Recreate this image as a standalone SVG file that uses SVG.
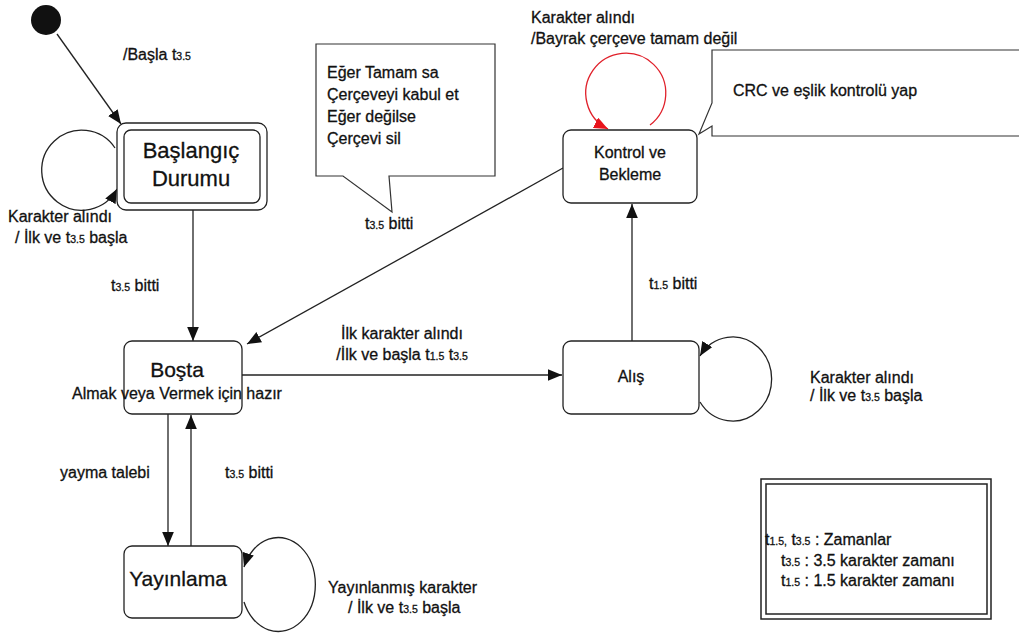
<svg xmlns="http://www.w3.org/2000/svg" width="1019" height="633" viewBox="0 0 1019 633">
  <style>
    text { font-family: "Liberation Sans", Arial, sans-serif; fill: #111; stroke: #111; stroke-width: 0.3; }
    .lbl { font-size: 16px; }
    .big { font-size: 22px; }
    .mid { font-size: 16px; }
    .sub { font-size: 10.5px; }
    .state { fill: #fff; stroke: #222; stroke-width: 1.3; }
    .edge { fill: none; stroke: #222; stroke-width: 1.3; }
    .red { fill: none; stroke: #e0202a; stroke-width: 1.3; }
    .note { fill: #fff; stroke: #333; stroke-width: 1.2; }
  </style>
  <defs>
    <marker id="arrow" viewBox="0 0 12 10" refX="12" refY="5" markerWidth="14" markerHeight="12" markerUnits="userSpaceOnUse" orient="auto">
      <path d="M0,0 L12,5 L0,10 z" fill="#111"/>
    </marker>
    <marker id="arrowRed" viewBox="0 0 12 10" refX="12" refY="5" markerWidth="14" markerHeight="12" markerUnits="userSpaceOnUse" orient="auto">
      <path d="M0,0 L12,5 L0,10 z" fill="#e8141c"/>
    </marker>
  </defs>

  <rect width="1019" height="633" fill="#fff"/>

  <!-- connectors -->
  <g id="connectors">
    <line class="edge" x1="57" y1="34" x2="121" y2="124" marker-end="url(#arrow)"/>
    <path class="edge" d="M115,148 A40,40 0 1 0 117,189" marker-end="url(#arrow)"/>
    <line class="edge" x1="193" y1="210" x2="193" y2="341" marker-end="url(#arrow)"/>
    <line class="edge" x1="563" y1="168" x2="247" y2="344" marker-end="url(#arrow)"/>
    <line class="edge" x1="242" y1="375" x2="562" y2="375" marker-end="url(#arrow)"/>
    <path class="edge" d="M700,402 A39,42 0 1 0 700,356" marker-end="url(#arrow)"/>
    <line class="edge" x1="632" y1="341" x2="632" y2="204" marker-end="url(#arrow)"/>
    <path class="red" d="M650,125 A40,40 0 1 0 608,129" marker-end="url(#arrowRed)"/>
    <line class="edge" x1="168" y1="414" x2="168" y2="546" marker-end="url(#arrow)"/>
    <line class="edge" x1="191" y1="546" x2="191" y2="415" marker-end="url(#arrow)"/>
    <path class="edge" d="M244,602 A37,47 0 1 0 244,567" marker-end="url(#arrow)"/>
  </g>

  <!-- initial pseudo-state -->
  <g id="initial">
    <circle cx="46" cy="20" r="15" fill="#111"/>
  </g>

  <g id="baslangic">
    <rect class="state" x="117" y="123" width="150" height="87" rx="9"/>
    <rect class="state" x="124" y="130" width="136" height="73" rx="7"/>
    <text class="big" x="191" y="158" text-anchor="middle">Başlangıç</text>
    <text class="big" x="191" y="186" text-anchor="middle">Durumu</text>
  </g>

  <g id="bosta">
    <rect class="state" x="124" y="341" width="118" height="73" rx="8"/>
    <text class="big" x="177" y="377" text-anchor="middle" style="font-size:21px">Boşta</text>
    <text class="mid" x="177" y="399" text-anchor="middle">Almak veya Vermek için hazır</text>
  </g>

  <g id="alis">
    <rect class="state" x="563" y="341" width="136" height="73" rx="8"/>
    <text class="mid" x="631" y="382" text-anchor="middle">Alış</text>
  </g>

  <g id="kontrol">
    <rect class="state" x="563" y="130" width="134" height="73" rx="8"/>
    <text class="mid" x="630" y="158" text-anchor="middle">Kontrol ve</text>
    <text class="mid" x="630" y="180" text-anchor="middle">Bekleme</text>
  </g>

  <g id="yayinlama">
    <rect class="state" x="124" y="546" width="118" height="72" rx="8"/>
    <text class="big" x="178" y="586" text-anchor="middle" style="font-size:21px">Yayınlama</text>
  </g>

  <!-- callout notes -->
  <g id="note-cerceve">
    <path class="note" d="M316,44 H495 V176 H389 L392,212 L343,176 H316 Z"/>
    <text class="lbl" x="327" y="78">Eğer Tamam sa</text>
    <text class="lbl" x="327" y="100">Çerçeveyi kabul et</text>
    <text class="lbl" x="327" y="122">Eğer değilse</text>
    <text class="lbl" x="327" y="144">Çerçevi sil</text>
  </g>

  <g id="note-crc">
    <path class="note" d="M1025,50 H712 V103 L699,134 L712,126 V136 H1025"/>
    <text class="lbl" x="733" y="96">CRC ve eşlik kontrolü yap</text>
  </g>

  <!-- transition labels -->
  <g id="labels">
    <text class="lbl" x="123" y="60">/Başla t<tspan class="sub">3.5</tspan></text>
    <text class="lbl" x="8" y="222">Karakter alındı</text>
    <text class="lbl" x="15" y="243">/ İlk ve t<tspan class="sub">3.5</tspan> başla</text>
    <text class="lbl" x="111" y="291">t<tspan class="sub">3.5</tspan> bitti</text>
    <text class="lbl" x="365" y="229">t<tspan class="sub">3.5</tspan> bitti</text>
    <text class="lbl" x="531" y="23">Karakter alındı</text>
    <text class="lbl" x="531" y="44">/Bayrak çerçeve tamam değil</text>
    <text class="lbl" x="402" y="339" text-anchor="middle">İlk karakter alındı</text>
    <text class="lbl" x="402" y="360" text-anchor="middle">/İlk ve başla t<tspan class="sub">1.5</tspan> t<tspan class="sub">3.5</tspan></text>
    <text class="lbl" x="649" y="289">t<tspan class="sub">1.5</tspan> bitti</text>
    <text class="lbl" x="810" y="383">Karakter alındı</text>
    <text class="lbl" x="810" y="401">/ İlk ve t<tspan class="sub">3.5</tspan> başla</text>
    <text class="lbl" x="60" y="478">yayma talebi</text>
    <text class="lbl" x="225" y="478">t<tspan class="sub">3.5</tspan> bitti</text>
    <text class="lbl" x="328" y="593">Yayınlanmış karakter</text>
    <text class="lbl" x="348" y="613">/ İlk ve t<tspan class="sub">3.5</tspan> başla</text>
  </g>

  <!-- legend -->
  <g id="legend">
    <rect x="761" y="479" width="230" height="140" fill="#fff" stroke="#222" stroke-width="1.5"/>
    <rect x="766" y="484" width="221" height="130" fill="none" stroke="#222" stroke-width="1.5"/>
    <text class="lbl" x="765" y="545">t<tspan class="sub">1.5,</tspan> t<tspan class="sub">3.5</tspan> : Zamanlar</text>
    <text class="lbl" x="781" y="566">t<tspan class="sub">3.5</tspan> : 3.5 karakter zamanı</text>
    <text class="lbl" x="781" y="586">t<tspan class="sub">1.5</tspan> : 1.5 karakter zamanı</text>
  </g>
</svg>
